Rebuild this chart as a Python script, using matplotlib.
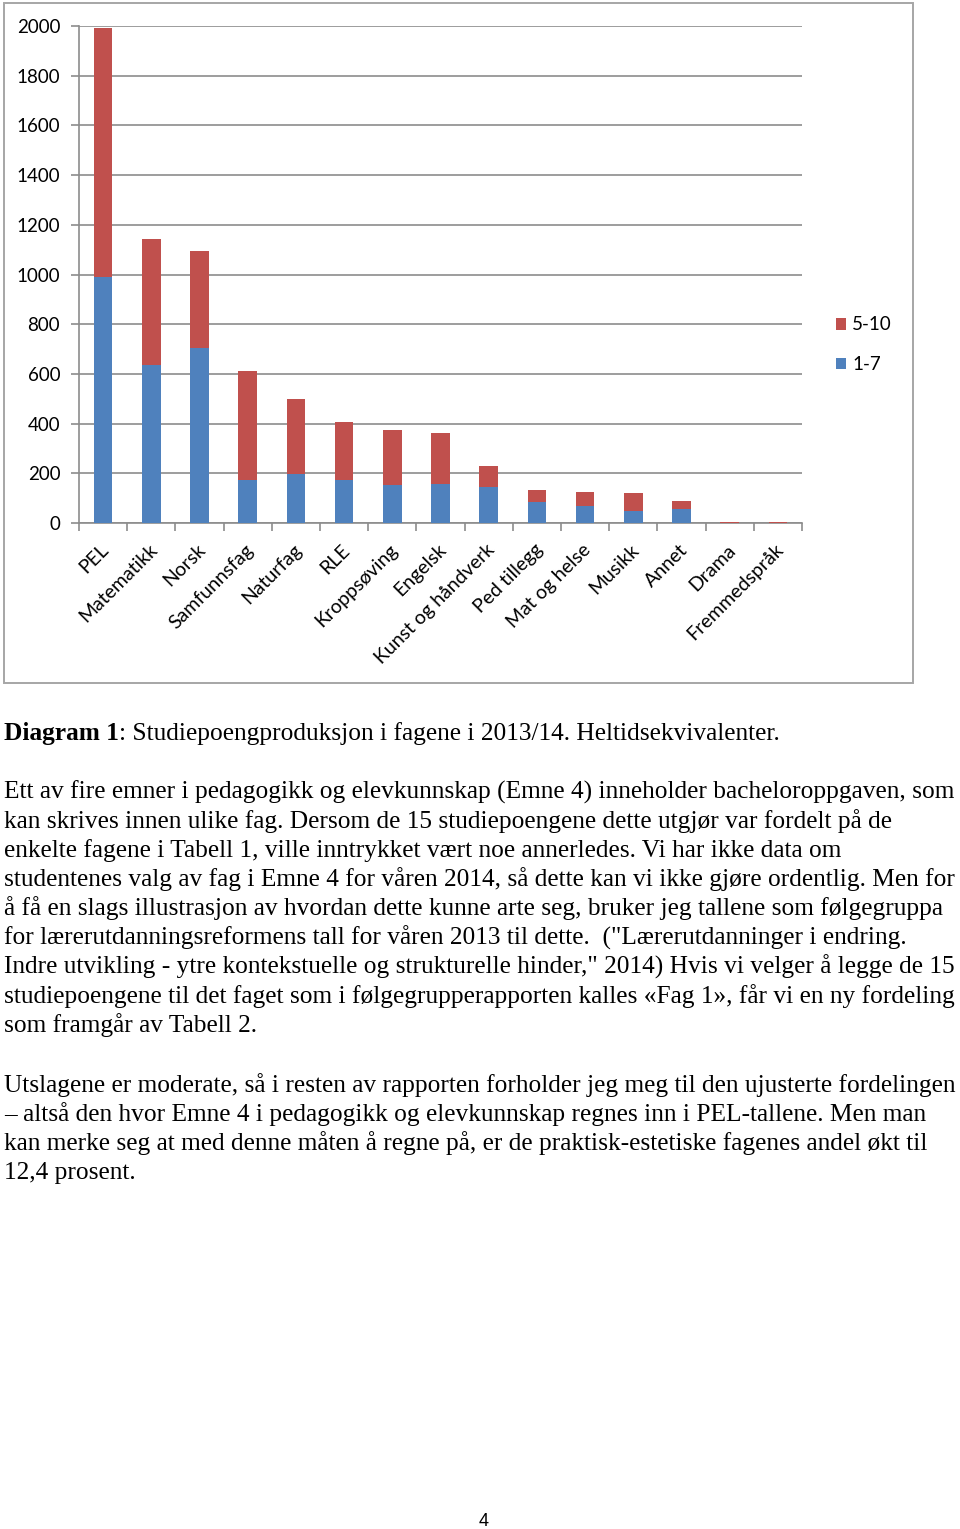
import matplotlib.pyplot as plt
import matplotlib.patches as patches
import matplotlib.transforms as mtransforms
import numpy as np

# chart data
fag = ['PEL', 'Matematikk', 'Norsk', 'Samfunnsfag', 'Naturfag', 'RLE',
       'Kroppsøving', 'Engelsk', 'Kunst og håndverk', 'Ped tillegg',
       'Mat og helse', 'Musikk', 'Annet', 'Drama', 'Fremmedspråk']
trinn_1_7 = [988, 634, 705, 173, 198, 172, 153, 158, 146, 85, 67, 48, 55, 0, 0]
trinn_5_10 = [1002, 510, 389, 437, 301, 235, 223, 203, 85, 48, 59, 71, 34, 4, 4]
yticks = [0, 200, 400, 600, 800, 1000, 1200, 1400, 1600, 1800, 2000]

caption_bold = 'Diagram 1'
caption_rest = ': Studiepoengproduksjon i fagene i 2013/14. Heltidsekvivalenter.'
avsnitt1 = [
    'Ett av fire emner i pedagogikk og elevkunnskap (Emne 4) inneholder bacheloroppgaven, som',
    'kan skrives innen ulike fag. Dersom de 15 studiepoengene dette utgjør var fordelt på de',
    'enkelte fagene i Tabell 1, ville inntrykket vært noe annerledes. Vi har ikke data om',
    'studentenes valg av fag i Emne 4 for våren 2014, så dette kan vi ikke gjøre ordentlig. Men for',
    'å få en slags illustrasjon av hvordan dette kunne arte seg, bruker jeg tallene som følgegruppa',
    'for lærerutdanningsreformens tall for våren 2013 til dette.  ("Lærerutdanninger i endring.',
    'Indre utvikling - ytre kontekstuelle og strukturelle hinder," 2014) Hvis vi velger å legge de 15',
    'studiepoengene til det faget som i følgegrupperapporten kalles «Fag 1», får vi en ny fordeling',
    'som framgår av Tabell 2.',
]
avsnitt2 = [
    'Utslagene er moderate, så i resten av rapporten forholder jeg meg til den ujusterte fordelingen',
    '– altså den hvor Emne 4 i pedagogikk og elevkunnskap regnes inn i PEL-tallene. Men man',
    'kan merke seg at med denne måten å regne på, er de praktisk-estetiske fagenes andel økt til',
    '12,4 prosent.',
]

W, H = 960, 1529
BLUE = '#4F81BD'
RED = '#C0504D'
GRID = '#8c8c8c'


def fx(px):
    return px / W


def fy(py):
    return 1 - py / H


fig = plt.figure(figsize=(W / 100, H / 100), dpi=100)
fig.patch.set_facecolor('white')

# chart frame
fig.patches.append(patches.Rectangle((fx(3.5), fy(683)), fx(909.5), 680 / H,
                                     transform=fig.transFigure, fill=False,
                                     edgecolor='#a6a6a6', linewidth=1.4))

ax_l, ax_r, ax_t, ax_b = 79, 802, 26, 523
ax = fig.add_axes([fx(ax_l), fy(ax_b), fx(ax_r - ax_l), (ax_b - ax_t) / H])

x = np.arange(len(fag))
b1 = ax.bar(x, trinn_1_7, width=0.39, color=BLUE, zorder=3)
b2 = ax.bar(x, trinn_5_10, width=0.39, bottom=trinn_1_7, color=RED, zorder=3)

ax.set_xlim(-0.5, len(fag) - 0.5)
ax.set_ylim(0, 2000)
ax.set_yticks(yticks)
ax.yaxis.grid(True, color=GRID, linewidth=1.2, zorder=0)
for s in ['top', 'right']:
    ax.spines[s].set_visible(False)
for s in ['left', 'bottom']:
    ax.spines[s].set_color(GRID)
    ax.spines[s].set_linewidth(1.2)

lab_font = dict(family='Lato', size=13.5)
ax.tick_params(axis='y', length=6, color=GRID, width=1.2, pad=7.5)
for t in ax.get_yticklabels():
    t.set_fontfamily('Lato')
    t.set_fontsize(13.5)

ax.set_xticks(x)
ax.set_xticks(np.arange(-0.5, len(fag)), minor=True)
ax.tick_params(axis='x', which='major', length=0, pad=13)
ax.tick_params(axis='x', which='minor', length=6, color=GRID, width=1.2)
ax.set_xticklabels(fag, rotation=45, ha='right', va='top', rotation_mode='anchor',
                   family='Lato', size=14)
shift = mtransforms.ScaledTranslation(-3 / 100, 0, fig.dpi_scale_trans)
for t in ax.get_xticklabels():
    t.set_transform(t.get_transform() + shift)

leg = ax.legend([b2, b1], ['5-10', '1-7'], loc='upper left',
                bbox_to_anchor=(fx(828), fy(309)), bbox_transform=fig.transFigure,
                frameon=False, handlelength=0.55, handleheight=0.55,
                handletextpad=0.35, labelspacing=1.2, prop=lab_font,
                borderaxespad=0)

# document text
serif = 'Liberation Serif'
fs = 18.25
t = fig.text(fx(4), fy(740), caption_bold, fontsize=fs, family=serif,
             fontweight='bold', va='baseline')
fig.canvas.draw()
bb = t.get_window_extent()
fig.text(bb.x1 / W, fy(740), caption_rest, fontsize=fs, family=serif, va='baseline')

y0 = 799
for i, line in enumerate(avsnitt1):
    fig.text(fx(4), fy(y0 + i * 29.1), line, fontsize=fs, family=serif, va='baseline')
y0 = 1092
for i, line in enumerate(avsnitt2):
    fig.text(fx(4), fy(y0 + i * 29.1), line, fontsize=fs, family=serif, va='baseline')

fig.text(fx(484), fy(1521), '4', fontsize=13, family='Liberation Sans',
         ha='center', va='center')

fig.savefig('out.png', dpi=100)
